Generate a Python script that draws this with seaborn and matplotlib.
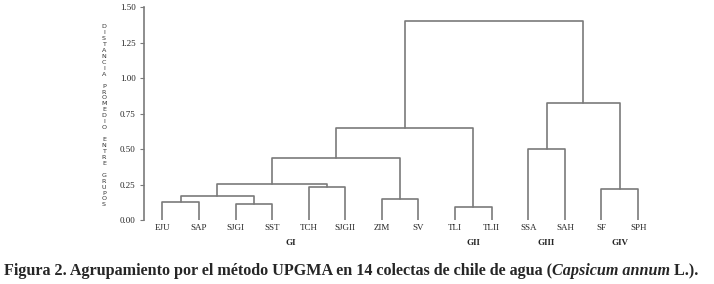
import numpy as np
import pandas as pd
import matplotlib
matplotlib.use("Agg")
import matplotlib.pyplot as plt
import seaborn as sns

# datos del dendrograma (UPGMA)
leaf_labels = ["EJU", "SAP", "SJGI", "SST", "TCH", "SJGII", "ZIM", "SV",
               "TLI", "TLII", "SSA", "SAH", "SF", "SPH"]
# hijos de cada fusión (0-13 hojas, 14+ grupos formados en orden)
merge_a = [0, 2, 14, 4, 16, 6, 18, 8, 20, 10, 12, 23, 22]
merge_b = [1, 3, 15, 5, 17, 7, 19, 9, 21, 11, 13, 24, 25]
merge_h = [0.13, 0.115, 0.168, 0.233, 0.257, 0.146, 0.44, 0.09, 0.649,
           0.50, 0.217, 0.826, 1.403]
group_labels = ["GI", "GII", "GIII", "GIV"]
group_pos = [3.5, 8.5, 10.5, 12.5]
y_ticks = [0.0, 0.25, 0.5, 0.75, 1.0, 1.25, 1.5]
y_title = "DISTANCIA PROMEDIO ENTRE GRUPOS"

sns.set_theme(style="white")
plt.rcParams['font.family'] = ['Liberation Serif', 'DejaVu Serif']

# coordenadas de cada enlace
n = len(leaf_labels)
xpos = list(range(n))
hpos = [0.0] * n
rows = []
for k, (a, b, h) in enumerate(zip(merge_a, merge_b, merge_h)):
    xs = [xpos[a], xpos[a], xpos[b], xpos[b]]
    ys = [hpos[a], h, h, hpos[b]]
    for x, y in zip(xs, ys):
        rows.append({"x": x, "y": y, "link": k})
    xpos.append((xpos[a] + xpos[b]) / 2)
    hpos.append(h)
df = pd.DataFrame(rows)

line_col = "#7a7a7a"
fig = plt.figure(figsize=(7.14, 2.84), dpi=100)
ax = fig.add_axes([0.2017, 0.2254, 0.7176, 0.7489])
sns.lineplot(data=df, x="x", y="y", units="link", estimator=None, sort=False,
             color=line_col, linewidth=1.2, ax=ax)

ax.set_xlim(-0.5, n - 0.5)
ax.set_ylim(0, 1.5)
ax.set_yticks(y_ticks)
ax.set_yticklabels([f"{v:.2f}" for v in y_ticks], fontsize=6.5)
ax.set_xticks(range(n))
ax.set_xticklabels(leaf_labels, fontsize=6.5)
ax.tick_params(axis="x", length=0, pad=3)
ax.tick_params(axis="y", length=3, width=0.8, color=line_col, pad=3, left=True)
ax.set_xlabel("")
ax.set_ylabel("")
for s in ["top", "right", "bottom"]:
    ax.spines[s].set_visible(False)
ax.spines["left"].set_color(line_col)
ax.spines["left"].set_linewidth(1.2)

# título vertical letra por letra
y0, step = 1 - 26.7 / 284, 5.94 / 284
for i, ch in enumerate(y_title):
    if ch != " ":
        fig.text(104 / 714, y0 - i * step, ch, fontsize=4.6, ha="center",
                 va="center", family="DejaVu Sans", color="#333333")

# etiquetas de grupos
for g, p in zip(group_labels, group_pos):
    ax.text(p, -0.16, g, ha="center", va="center", fontsize=6.5,
            fontweight="bold", transform=ax.transData, clip_on=False)

# pie de figura
r = fig.canvas.get_renderer()
parts = [("Figura 2. Agrupamiento por el método UPGMA en 14 colectas de chile de agua (", "normal"),
         ("Capsicum annum", "italic"),
         (" L.).", "normal")]
xc = 4
for txt, st in parts:
    t = fig.text(xc / 714, 0.046, txt, fontsize=11.6, fontweight="bold",
                 style=st, va="center", ha="left", family="Liberation Serif")
    xc = t.get_window_extent(r).x1

fig.savefig("out.png", dpi=100)
